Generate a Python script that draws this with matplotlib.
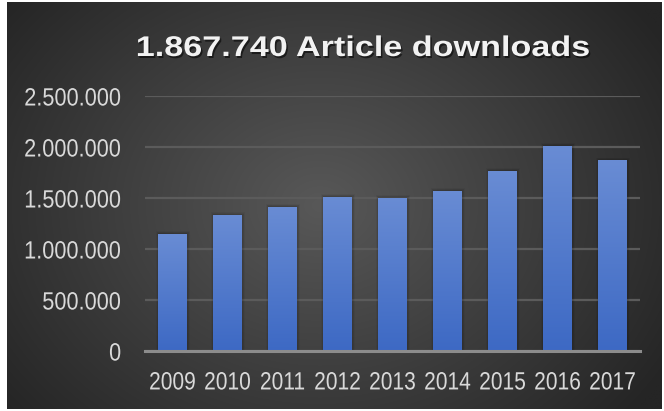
import numpy as np
import matplotlib
matplotlib.use("Agg")
import matplotlib.pyplot as plt
import matplotlib.patheffects as pe
from matplotlib.transforms import Affine2D

years = ["2009", "2010", "2011", "2012", "2013", "2014", "2015", "2016", "2017"]
downloads = [1147000, 1333000, 1412000, 1510000, 1500000, 1569000, 1765000, 2010000, 1867740]
ytick_vals = [0, 500000, 1000000, 1500000, 2000000, 2500000]
ytick_labels = ["0", "500.000", "1.000.000", "1.500.000", "2.000.000", "2.500.000"]
title = "1.867.740 Article downloads"


class Stretch(pe.AbstractPathEffect):
    """Draw text horizontally scaled (narrow/wide face), optional drop shadow."""

    def __init__(self, sx, anchor="center", shadow=False):
        super().__init__()
        self.sx = sx
        self.anchor = anchor
        self.shadow = shadow

    def draw_path(self, renderer, gc, tpath, affine, rgbFace=None):
        ext = tpath.get_extents()
        if self.anchor == "center":
            a = (ext.x0 + ext.x1) / 2
        elif self.anchor == "right":
            a = ext.x1
        else:
            a = ext.x0
        t = Affine2D().translate(-a, 0).scale(self.sx, 1).translate(a, 0) + affine
        if self.shadow:
            gc0 = renderer.new_gc()
            gc0.copy_properties(gc)
            gc0.set_alpha(0.55)
            renderer.draw_path(gc0, tpath, t + Affine2D().translate(1.5, -2.0), (0, 0, 0))
            gc0.restore()
        renderer.draw_path(gc, tpath, t, rgbFace)


W, H = 664, 411
fig = plt.figure(figsize=(W / 100, H / 100), dpi=100, facecolor="white")

# background with radial gradient
bg = fig.add_axes([7 / W, 2 / H, (662 - 7) / W, (409 - 2) / H])
bg.set_axis_off()
yy, xx = np.mgrid[0:400, 0:650]
cx, cy = 310, 200
d = np.sqrt(((xx - cx) / 400.0) ** 2 + ((yy - cy) / 320.0) ** 2)
d = np.clip(d, 0, 1)
inner = np.array([0x58, 0x58, 0x58]) / 255
outer = np.array([0x25, 0x25, 0x25]) / 255
img = inner[None, None, :] * (1 - d[..., None]) + outer[None, None, :] * d[..., None]
bg.imshow(img, aspect="auto", extent=[0, 1, 0, 1], interpolation="bilinear")
bg.set_xlim(0, 1)
bg.set_ylim(0, 1)

ax = fig.add_axes([145 / W, 1 - 351 / H, (640 - 145) / W, (351 - 96) / H])
ax.patch.set_alpha(0)
x = np.arange(len(years))
bars = ax.bar(x, downloads, width=0.51, color="#4a74c9", zorder=3)

# soft bar shadows
for b in bars:
    for k in range(5):
        grow = 0.012 * (k + 1)
        s = plt.Rectangle((b.get_x() - grow * 0.6, 0), b.get_width() + grow * 1.6,
                          b.get_height() + 5000 * (k + 1), color="black", alpha=0.045,
                          zorder=2, linewidth=0)
        ax.add_patch(s)

# gradient fill for bars
grad = np.linspace(0, 1, 256)[:, None]
top_c = np.array([0x69, 0x8c, 0xd4]) / 255
bot_c = np.array([0x3d, 0x69, 0xc4]) / 255
gimg = top_c[None, None, :] * (1 - grad[..., None]) + bot_c[None, None, :] * grad[..., None]
gimg = np.repeat(gimg, 2, axis=1)
for b in bars:
    im = ax.imshow(gimg, aspect="auto", extent=[b.get_x(), b.get_x() + b.get_width(), 0, b.get_height()],
                   zorder=4, interpolation="bilinear")
    im.set_clip_path(b)

ax.set_xlim(-0.5, len(years) - 0.5)
ax.set_ylim(0, 2500000)
ax.set_yticks(ytick_vals)
ax.set_yticklabels(ytick_labels)
ax.set_xticks(x)
ax.set_xticklabels(years)
ax.grid(axis="y", color="#5b5b5b", linewidth=1.6, zorder=1)
ax.set_axisbelow(True)
for s in ["top", "right", "left"]:
    ax.spines[s].set_visible(False)
ax.spines["bottom"].set_color("#8c8c8c")
ax.spines["bottom"].set_linewidth(2.2)
ax.spines["bottom"].set_zorder(5)
ax.tick_params(length=0, colors="#d9d9d9", labelsize=18)
ax.tick_params(axis="y", pad=17)
ax.tick_params(axis="x", pad=14)
for t in ax.get_yticklabels():
    t.set_family(["Liberation Sans", "DejaVu Sans"])
    t.set_color("#d9d9d9")
    t.set_path_effects([Stretch(0.87, anchor="right")])
for t in ax.get_xticklabels():
    t.set_family(["Liberation Sans", "DejaVu Sans"])
    t.set_color("#d9d9d9")
    t.set_path_effects([Stretch(0.84, anchor="center")])

fig.text(363 / W, 1 - 49 / H, title, ha="center", va="center", color="#f2f2f2",
         fontsize=20.5, fontweight="bold", family=["Liberation Sans", "DejaVu Sans"],
         path_effects=[Stretch(1.2, anchor="center", shadow=True)])

fig.savefig("out.png", dpi=100, facecolor="white")
